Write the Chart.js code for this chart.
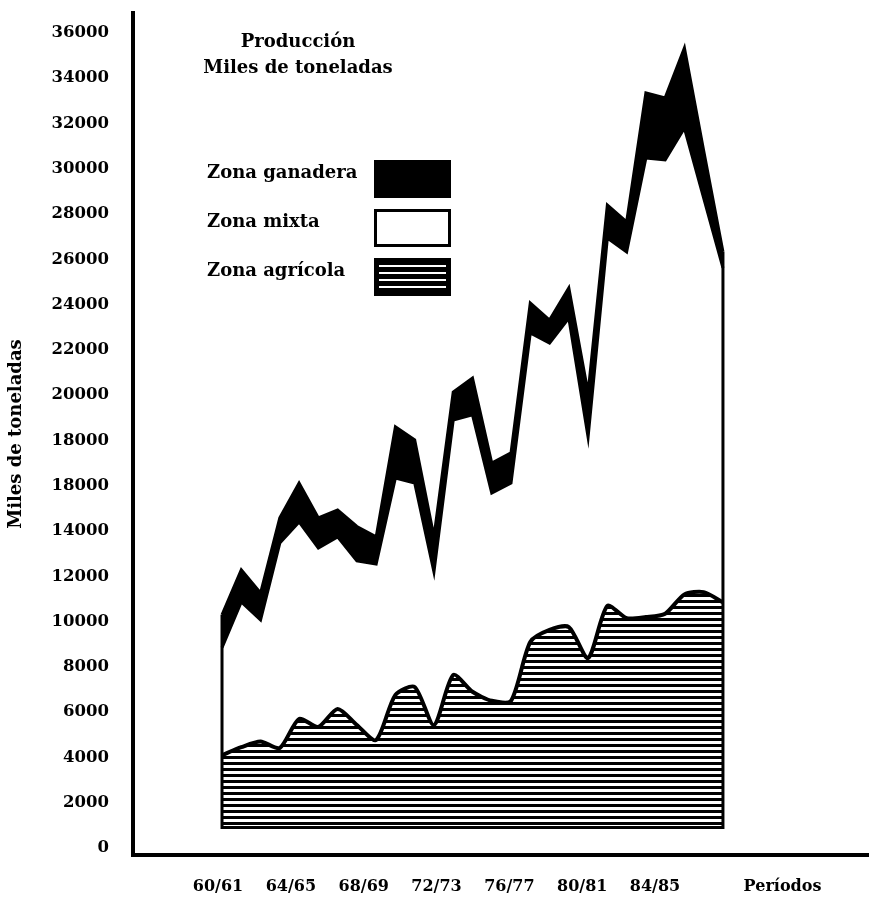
<!DOCTYPE html>
<html>
<head>
<meta charset="utf-8">
<script src="https://cdn.jsdelivr.net/npm/chart.js@4.4.0/dist/chart.umd.min.js"></script>
<style>
  html, body { margin: 0; padding: 0; background: #fff; }
  #wrap { width: 869px; height: 899px; }
</style>
</head>
<body>
<div id="wrap"><canvas id="myChart"></canvas></div>
<script>
const periods = ["60/61", "61/62", "62/63", "63/64", "64/65", "65/66", "66/67", "67/68", "68/69",
  "69/70", "70/71", "71/72", "72/73", "73/74", "74/75", "75/76", "76/77", "77/78", "78/79",
  "79/80", "80/81", "81/82", "82/83", "83/84", "84/85", "85/86", "86/87"];

// miles de toneladas, each zone on top of the previous one
const zonaAgricola = [4100, 4450, 4700, 4420, 5700, 5350, 6140, 5430, 4770, 6760, 7110, 5430, 7640, 6900,
  6500, 6500, 9100, 9630, 9760, 8390, 10690, 10150, 10200, 10350, 11200, 11300, 10850];
const zonaMixta = [4750, 6420, 5370, 9050, 8700, 7900, 7600, 7250, 7770, 9580, 9010, 6760, 11260, 12230,
  9180, 9620, 13650, 12670, 13650, 9760, 16250, 16180, 20280, 20040, 20600, 17400, 14770];
const zonaGanadera = [1450, 1410, 1190, 1110, 1720, 1330, 1190, 1520, 1200, 2260, 1900, 1550, 1240, 1630,
  1320, 1330, 1320, 1020, 1330, 1950, 1460, 1320, 2870, 2740, 3540, 2100, 710];

// the hatched area starts a little above zero in the original
const agricolaBase = 900;

const yTickValues = [0, 2000, 4000, 6000, 8000, 10000, 12000, 14000, 16000, 18000, 20000, 22000, 24000,
  26000, 28000, 30000, 32000, 34000, 36000];
const yTickLabels = ["0", "2000", "4000", "6000", "8000", "10000", "12000", "14000", "18000", "18000",
  "20000", "22000", "24000", "26000", "28000", "30000", "32000", "34000", "36000"];
const xTickLabels = ["60/61", "64/65", "68/69", "72/73", "76/77", "80/81", "84/85"];

const FONT = "'DejaVu Serif', serif";
Chart.defaults.font.family = FONT;
Chart.defaults.font.size = 16;
Chart.defaults.font.weight = "bold";
Chart.defaults.color = "#000";

const yearOf = (p) => 1900 + parseInt(p, 10);
const toPoints = (values) => values.map((v, i) => ({ x: yearOf(periods[i]), y: v }));

const makeHatch = () => {
  const c = document.createElement("canvas");
  c.width = 8;
  c.height = 6;
  const g = c.getContext("2d");
  g.fillStyle = "#fff";
  g.fillRect(0, 0, 8, 6);
  g.fillStyle = "#000";
  g.fillRect(0, 0, 8, 3);
  return document.getElementById("myChart").getContext("2d").createPattern(c, "repeat");
};
const hatch = makeHatch();

// closes the area on the left, bottom and right like the printed chart
const outlinePlugin = {
  id: "outline",
  afterDatasetsDraw(chart) {
    const { ctx, scales: { x, y } } = chart;
    const last = periods.length - 1;
    const total = (i) => zonaAgricola[i] + zonaMixta[i] + zonaGanadera[i];
    const xl = x.getPixelForValue(yearOf(periods[0]));
    const xr = x.getPixelForValue(yearOf(periods[last]));
    const yb = y.getPixelForValue(agricolaBase);
    ctx.save();
    ctx.strokeStyle = "#000";
    ctx.lineWidth = 3;
    ctx.beginPath();
    ctx.moveTo(xl, y.getPixelForValue(total(0)));
    ctx.lineTo(xl, yb);
    ctx.lineTo(xr, yb);
    ctx.lineTo(xr, y.getPixelForValue(total(last)));
    ctx.stroke();
    ctx.restore();
  }
};

// title and legend sit inside the plot, legend boxes on the right of the text
const legendPlugin = {
  id: "legendBoxes",
  afterDraw(chart) {
    const { ctx } = chart;
    ctx.save();
    ctx.fillStyle = "#000";
    ctx.font = "bold 18px " + FONT;
    ctx.textAlign = "center";
    ctx.textBaseline = "middle";
    ctx.fillText("Producción", 298, 42);
    ctx.fillText("Miles de toneladas", 298, 68);

    ctx.textAlign = "left";
    const items = ["Zona ganadera", "Zona mixta", "Zona agrícola"];
    items.forEach((text, i) => {
      const top = 160 + i * 49;
      ctx.fillStyle = "#000";
      ctx.fillText(text, 207, top + 13);
      const bx = 374, bw = 77, bh = 38;
      if (i === 0) {
        ctx.fillRect(bx, top, bw, bh);
      } else if (i === 1) {
        ctx.lineWidth = 3;
        ctx.strokeRect(bx + 1.5, top + 1.5, bw - 3, bh - 3);
      } else {
        ctx.fillRect(bx, top, bw, bh);
        ctx.fillStyle = "#fff";
        for (let k = 0; k < 4; k++) {
          ctx.fillRect(bx + 5, top + 7 + k * 7, bw - 10, 2);
        }
      }
    });
    ctx.restore();
  }
};

const createChart = () => {
  const ctx = document.getElementById("myChart").getContext("2d");

  return new Chart(ctx, {
    type: "line",
    data: {
      datasets: [
        {
          label: "Zona agrícola",
          data: toPoints(zonaAgricola),
          borderColor: "#000",
          borderWidth: 4,
          backgroundColor: hatch,
          fill: { value: agricolaBase },
          tension: 0.25,
          pointRadius: 0
        },
        {
          label: "Zona mixta",
          data: toPoints(zonaMixta),
          borderColor: "#000",
          borderWidth: 3,
          backgroundColor: "#fff",
          fill: "-1",
          tension: 0,
          pointRadius: 0
        },
        {
          label: "Zona ganadera",
          data: toPoints(zonaGanadera),
          borderColor: "#000",
          borderWidth: 3,
          backgroundColor: "#000",
          fill: "-1",
          tension: 0,
          pointRadius: 0
        }
      ]
    },
    options: {
      responsive: true,
      maintainAspectRatio: false,
      animation: false,
      layout: { padding: { top: 13, left: 0, right: 0, bottom: 0 } },
      plugins: {
        legend: { display: false },
        tooltip: { enabled: false }
      },
      scales: {
        x: {
          type: "linear",
          display: false,
          min: 1955.38,
          max: 1993.58
        },
        xl: {
          type: "linear",
          position: "bottom",
          min: 1955.33,
          max: 1995.75,
          grid: { display: false },
          border: { width: 4, color: "#000" },
          afterBuildTicks: (axis) => {
            axis.ticks = xTickLabels.map((l) => ({ value: yearOf(l) })).concat([{ value: 1991 }]);
          },
          ticks: {
            padding: 14,
            autoSkip: false,
            maxRotation: 0,
            font: { size: 16 },
            callback: (value, index) => (index < xTickLabels.length ? xTickLabels[index] : "Períodos")
          },
          afterFit: (axis) => {
            axis.height = 44;
          }
        },
        y: {
          stacked: true,
          min: -310,
          max: 36880,
          grid: { display: false },
          border: { width: 4, color: "#000" },
          afterBuildTicks: (axis) => {
            axis.ticks = yTickValues.map((v) => ({ value: v }));
          },
          ticks: {
            padding: 16,
            font: { size: 16.5 },
            callback: (value, index) => yTickLabels[index]
          },
          title: {
            display: true,
            text: "Miles de toneladas",
            font: { size: 18 },
            padding: { top: 6, bottom: 0 }
          },
          afterFit: (axis) => {
            axis.width = 133;
            axis.paddingTop = 0;
            axis.paddingBottom = 0;
          }
        }
      }
    },
    plugins: [outlinePlugin, legendPlugin]
  });
};

createChart();
</script>
</body>
</html>
